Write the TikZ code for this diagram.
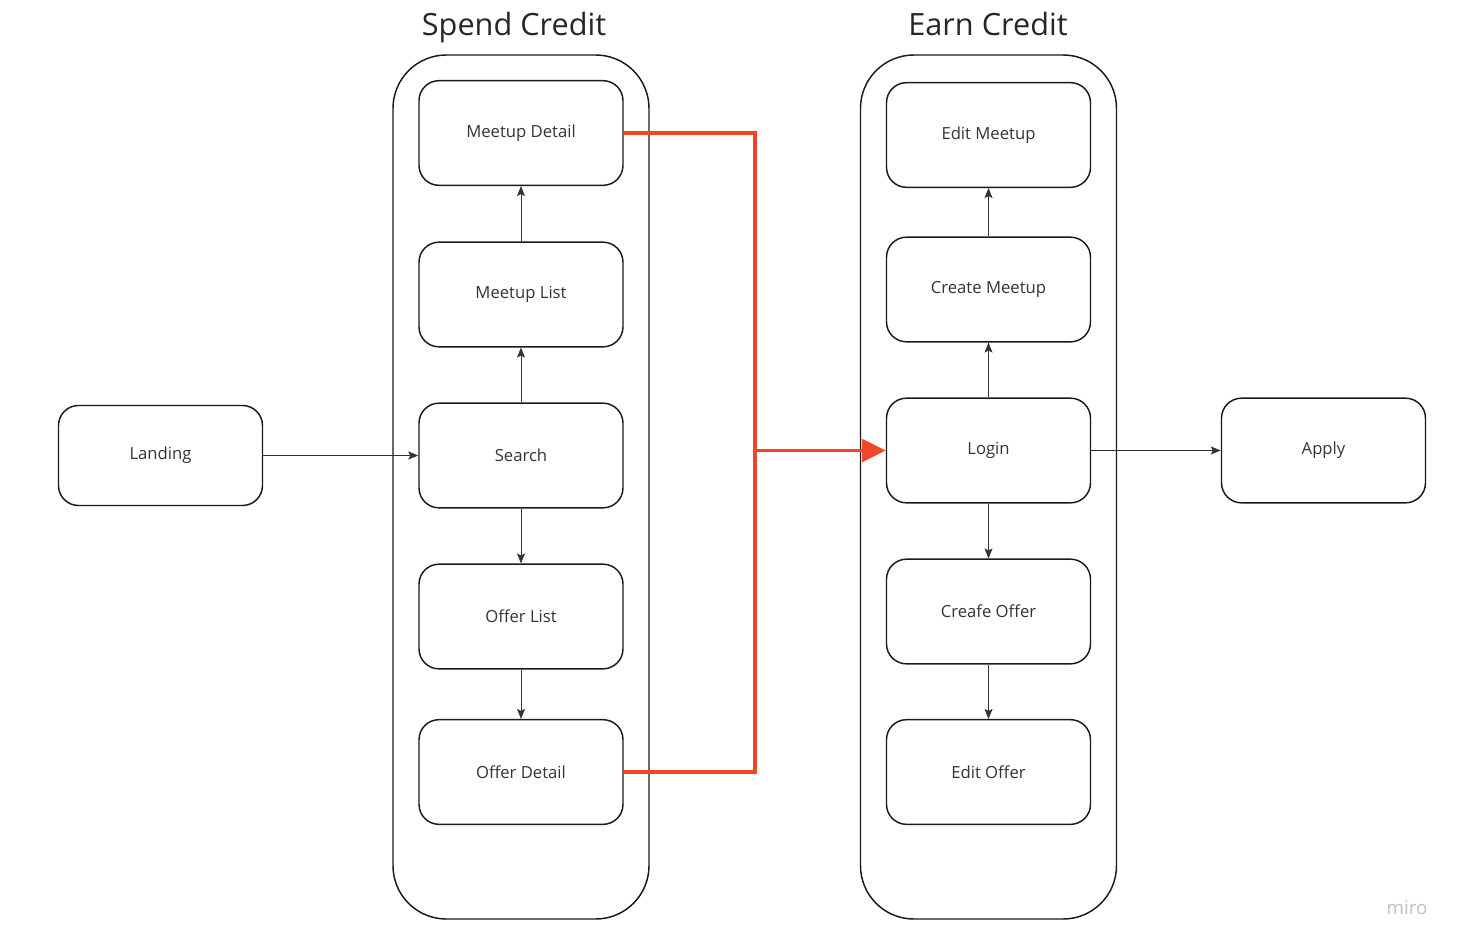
\documentclass[tikz,border=0pt]{standalone}
\usepackage{fontspec}
\setmainfont{Open Sans}
\usepackage{xcolor}
\usetikzlibrary{arrows.meta, positioning, calc}

\definecolor{miroRed}{HTML}{F24726}
\definecolor{lineDark}{HTML}{1A1A1A}
\definecolor{textDark}{HTML}{333333}

\begin{document}
\begin{tikzpicture}[
    x=0.75pt, y=-0.75pt,
    >=Stealth,
    % Node styles
    pagebox/.style={draw=lineDark, rounded corners=15pt, line width=1.1pt, align=center, minimum width=153pt, minimum height=78.5pt, inner sep=0pt, font=\fontsize{12.5}{14}\selectfont, text=textDark},
    groupbox/.style={draw=lineDark, rounded corners=40pt, line width=1.1pt, minimum width=192pt, minimum height=648pt, inner sep=0pt},
    grouptitle/.style={font=\fontsize{23}{26}\selectfont, text=black!85, inner sep=0pt, anchor=base},
    arrow/.style={line width=0.55pt, color=black!80, -{Stealth[length=7.5pt, width=6pt, inset=1.5pt]}},
    redarrow/.style={line width=2.8pt, color=miroRed}
]
\useasboundingbox (0,0) rectangle (1465,950);

% ========== Groups ==========
\node[groupbox] (spend) at (521, 487) {};
\node[groupbox] (earn) at (988.5, 487) {};
\node[grouptitle] (spendtitle) at (514, 35) {Spend Credit};
\node[grouptitle] (earntitle) at (988, 35) {Earn Credit};

% ========== Spend Credit pages ==========
\node[pagebox] (mdetail) at (521, 133) {Meetup Detail};
\node[pagebox] (mlist) at (521, 294.5) {Meetup List};
\node[pagebox] (search) at (521, 455.5) {Search};
\node[pagebox] (olist) at (521, 616.5) {Offer List};
\node[pagebox] (odetail) at (521, 772) {Offer Detail};

% ========== Earn Credit pages ==========
\node[pagebox] (emeetup) at (988.5, 135) {Edit Meetup};
\node[pagebox] (cmeetup) at (988.5, 289.5) {Create Meetup};
\node[pagebox] (login) at (988.5, 450.5) {Login};
\node[pagebox] (coffer) at (988.5, 611.5) {Creafe Offer};
\node[pagebox] (eoffer) at (988.5, 772) {Edit Offer};

% ========== Outside pages ==========
\node[pagebox, minimum height=75pt] (landing) at (160.5, 455.5) {Landing};
\node[pagebox] (apply) at (1323.5, 450.5) {Apply};

% watermark
\node[font=\fontsize{14}{16}\selectfont, text=black!25] (miro) at (1407, 908) {miro};

% ========== ARROWS ==========
\draw[arrow] (landing.east) -- (search.west);
\draw[arrow] (search.north) -- (mlist.south);
\draw[arrow] (mlist.north) -- (mdetail.south);
\draw[arrow] (search.south) -- (olist.north);
\draw[arrow] (olist.south) -- (odetail.north);

\draw[arrow] (login.north) -- (cmeetup.south);
\draw[arrow] (cmeetup.north) -- (emeetup.south);
\draw[arrow] (login.south) -- (coffer.north);
\draw[arrow] (coffer.south) -- (eoffer.north);
\draw[arrow] (login.east) -- (apply.west);

% Spend to Earn
\coordinate (join) at (755, 450.5);
\draw[redarrow] (mdetail.east) -| (join);
\draw[redarrow] (odetail.east) -| (join);
\draw[redarrow, -{Triangle[length=18pt, width=17pt]}] (join) -- (login.west);

\end{tikzpicture}
\end{document}
